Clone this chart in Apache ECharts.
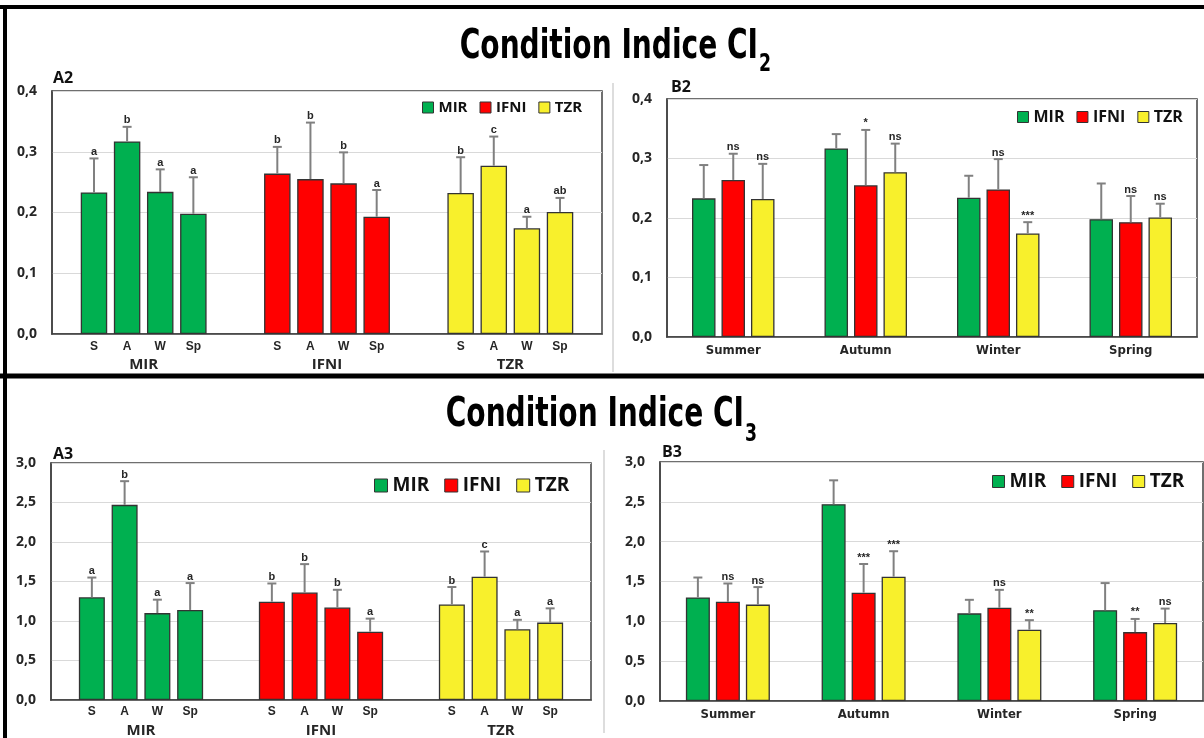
<!DOCTYPE html>
<html>
<head>
<meta charset="utf-8">
<script src="https://cdn.jsdelivr.net/npm/echarts@6/dist/echarts.min.js"></script>
<style>
html,body{margin:0;padding:0;background:#fff;}
#chart{width:1204px;height:738px;}
</style>
</head>
<body>
<div id="chart"></div>
<script>
// ---------- DATA ----------
const sites = ['MIR', 'IFNI', 'TZR'];
const seasons = ['Summer', 'Autumn', 'Winter', 'Spring'];
const seasonAbbr = ['S', 'A', 'W', 'Sp'];

// CI2 means and SD (Summer, Autumn, Winter, Spring)
const ci2_MIR = [0.233, 0.317, 0.234, 0.198];
const ci2_MIR_sd = [0.056, 0.024, 0.037, 0.060];
const ci2_IFNI = [0.264, 0.255, 0.248, 0.193];
const ci2_IFNI_sd = [0.044, 0.093, 0.051, 0.044];
const ci2_TZR = [0.232, 0.277, 0.174, 0.201];
const ci2_TZR_sd = [0.059, 0.048, 0.019, 0.023];

// CI3 means and SD
const ci3_MIR = [1.30, 2.47, 1.10, 1.14];
const ci3_MIR_sd = [0.25, 0.30, 0.17, 0.34];
const ci3_IFNI = [1.245, 1.36, 1.17, 0.865];
const ci3_IFNI_sd = [0.23, 0.36, 0.225, 0.165];
const ci3_TZR = [1.21, 1.56, 0.895, 0.98];
const ci3_TZR_sd = [0.22, 0.32, 0.12, 0.18];

// Letters (A panels: seasonal comparison within site)
const ci2_letters_MIR = ['a', 'b', 'a', 'a'];
const ci2_letters_IFNI = ['b', 'b', 'b', 'a'];
const ci2_letters_TZR = ['b', 'c', 'a', 'ab'];
const ci3_letters_MIR = ['a', 'b', 'a', 'a'];
const ci3_letters_IFNI = ['b', 'b', 'b', 'a'];
const ci3_letters_TZR = ['b', 'c', 'a', 'a'];

// Significance (B panels: site vs MIR per season)
const ci2_sig_MIR = ['', '', '', ''];
const ci2_sig_IFNI = ['ns', '*', 'ns', 'ns'];
const ci2_sig_TZR = ['ns', 'ns', '***', 'ns'];
const ci3_sig_MIR = ['', '', '', ''];
const ci3_sig_IFNI = ['ns', '***', 'ns', '**'];
const ci3_sig_TZR = ['ns', '***', '**', 'ns'];

const yTicks2 = {min: 0, max: 0.4, interval: 0.1};
const yTicks3 = {min: 0, max: 3.0, interval: 0.5};

// ---------- STYLE ----------
const siteColors = ['#00B050', '#FF0000', '#F8F02C'];
const F = '"Liberation Sans", Arial, sans-serif';
const FN = '"Liberation Sans Narrow", "DejaVu Sans Condensed", "Liberation Sans", sans-serif';
const FO = '"Open Sans", "Liberation Sans", sans-serif';
const barBorder = {borderColor: '#333', borderWidth: 1.3};

const means2 = [ci2_MIR, ci2_IFNI, ci2_TZR];
const sds2 = [ci2_MIR_sd, ci2_IFNI_sd, ci2_TZR_sd];
const lets2 = [ci2_letters_MIR, ci2_letters_IFNI, ci2_letters_TZR];
const sig2 = [ci2_sig_MIR, ci2_sig_IFNI, ci2_sig_TZR];
const means3 = [ci3_MIR, ci3_IFNI, ci3_TZR];
const sds3 = [ci3_MIR_sd, ci3_IFNI_sd, ci3_TZR_sd];
const lets3 = [ci3_letters_MIR, ci3_letters_IFNI, ci3_letters_TZR];
const sig3 = [ci3_sig_MIR, ci3_sig_IFNI, ci3_sig_TZR];

const panels = [
  {type: 'A', grid: {left: 52, top: 91, width: 550, height: 243}, ticks: yTicks2, means: means2, sds: sds2, texts: lets2, bw: 26.5, gap: 0.25,
   legend: {left: 422, top: 100, icon: 11, font: 15, gap: 12}, seasonDist: 7, siteMargin: 23},
  {type: 'B', grid: {left: 667, top: 99, width: 530, height: 238}, ticks: yTicks2, means: means2, sds: sds2, texts: sig2, bw: 23.5, gap: 0.255,
   legend: {left: 1017, top: 109, icon: 11, font: 16, gap: 12}, catMargin: 7},
  {type: 'A', grid: {left: 51, top: 463, width: 540, height: 238}, ticks: yTicks3, means: means3, sds: sds3, texts: lets3, bw: 26, gap: 0.26,
   legend: {left: 374, top: 476, icon: 13, font: 19, gap: 15}, seasonDist: 6, siteMargin: 23},
  {type: 'B', grid: {left: 660, top: 462, width: 543, height: 239}, ticks: yTicks3, means: means3, sds: sds3, texts: sig3, bw: 24, gap: 0.25,
   legend: {left: 992, top: 472, icon: 12, font: 19, gap: 15}, catMargin: 7}
];

function errRender(slots, n, bw, gap, texts) {
  return function (params, api) {
    const i = params.dataIndex;
    const c = api.value(0), m = api.value(1), h = api.value(2);
    const p0 = api.coord([c, m]);
    const p1 = api.coord([c, h]);
    const x = p0[0] + (slots[i] - (n - 1) / 2) * bw * (1 + gap);
    const children = [
      {type: 'line', shape: {x1: x, y1: p0[1], x2: x, y2: p1[1]}, style: {stroke: '#808080', lineWidth: 2}},
      {type: 'line', shape: {x1: x - 4.5, y1: p1[1], x2: x + 4.5, y2: p1[1]}, style: {stroke: '#808080', lineWidth: 2}}
    ];
    if (texts[i]) {
      children.push({type: 'text', x: x, y: p1[1] - 1,
        style: {text: texts[i], align: 'center', verticalAlign: 'bottom', font: 'bold 11px ' + F, fill: '#262626'}});
    }
    return {type: 'group', children: children};
  };
}

const grids = [], xAxes = [], yAxes = [], series = [], legends = [];
panels.forEach(function (p, gi) {
  grids.push(Object.assign({show: true, borderColor: '#404040', borderWidth: 1.5, backgroundColor: '#fff'}, p.grid));
  yAxes.push({gridIndex: gi, type: 'value', min: p.ticks.min, max: p.ticks.max, interval: p.ticks.interval,
    axisLine: {show: true, lineStyle: {color: '#404040', width: 1.5}}, axisTick: {show: false},
    splitLine: {lineStyle: {color: '#D9D9D9', width: 1.2}},
    axisLabel: {margin: 15, color: '#262626', fontFamily: FO, fontWeight: 'bold', fontSize: 14,
      formatter: function (v) { return v.toFixed(1).replace('.', ','); }}});
  const isA = p.type === 'A';
  xAxes.push({gridIndex: gi, type: 'category', data: isA ? sites : seasons,
    axisLine: {show: true, lineStyle: {color: '#404040', width: 1.5}}, axisTick: {show: false},
    axisLabel: isA ? {margin: p.siteMargin, color: '#262626', fontFamily: FO, fontWeight: 'bold', fontSize: 15}
                   : {margin: p.catMargin, color: '#262626', fontFamily: FN, fontWeight: 'bold', fontSize: 13}});
  const errData = [], slots = [], texts = [];
  if (isA) {
    seasonAbbr.forEach(function (ab, s) {
      series.push({type: 'bar', name: ab, xAxisIndex: gi, yAxisIndex: gi, barWidth: p.bw, barGap: (p.gap * 100) + '%',
        data: sites.map(function (site, k) { return {value: p.means[k][s], itemStyle: Object.assign({color: siteColors[k]}, barBorder)}; }),
        label: {show: true, position: 'bottom', distance: p.seasonDist, formatter: ab, color: '#262626',
          fontFamily: F, fontWeight: 'bold', fontSize: 12}});
      sites.forEach(function (site, k) {
        errData.push([k, p.means[k][s], p.means[k][s] + p.sds[k][s]]);
        slots.push(s); texts.push(p.texts[k][s]);
      });
    });
    series.push({type: 'custom', xAxisIndex: gi, yAxisIndex: gi, z: 5, silent: true,
      renderItem: errRender(slots, 4, p.bw, p.gap, texts), data: errData});
  } else {
    sites.forEach(function (site, k) {
      series.push({type: 'bar', name: site, xAxisIndex: gi, yAxisIndex: gi, barWidth: p.bw, barGap: (p.gap * 100) + '%',
        itemStyle: Object.assign({color: siteColors[k]}, barBorder), data: p.means[k]});
      seasons.forEach(function (se, s) {
        errData.push([s, p.means[k][s], p.means[k][s] + p.sds[k][s]]);
        slots.push(k); texts.push(p.texts[k][s]);
      });
    });
    series.push({type: 'custom', xAxisIndex: gi, yAxisIndex: gi, z: 5, silent: true,
      renderItem: errRender(slots, 3, p.bw, p.gap, texts), data: errData});
  }
  legends.push({data: sites, left: p.legend.left, top: p.legend.top, orient: 'horizontal', padding: 0,
    itemWidth: p.legend.icon, itemHeight: p.legend.icon, itemGap: p.legend.gap, itemTextGap: 4, icon: 'rect', selectedMode: false,
    itemStyle: {borderColor: '#333', borderWidth: 1},
    textStyle: {fontFamily: FO, fontWeight: 'bold', fontSize: p.legend.font, color: '#111'}});
});

const graphics = [
  // panel frames
  {type: 'line', shape: {x1: 0, y1: 7, x2: 1204, y2: 7}, style: {stroke: '#000', lineWidth: 4}},
  {type: 'line', shape: {x1: 0, y1: 376, x2: 1204, y2: 376}, style: {stroke: '#000', lineWidth: 5}},
  {type: 'line', shape: {x1: 5, y1: 5, x2: 5, y2: 738}, style: {stroke: '#000', lineWidth: 4}},
  // separators
  {type: 'line', shape: {x1: 613, y1: 83, x2: 613, y2: 372}, style: {stroke: '#DDDDDD', lineWidth: 2}},
  {type: 'line', shape: {x1: 604, y1: 450, x2: 604, y2: 733}, style: {stroke: '#DDDDDD', lineWidth: 2}},
  // titles
  {type: 'text', x: 758, y: 48, scaleX: 0.78, style: {text: 'Condition Indice CI', align: 'right', verticalAlign: 'middle', font: 'bold 40px ' + FN, fill: '#000'}},
  {type: 'text', x: 759, y: 65, scaleX: 0.8, style: {text: '2', align: 'left', verticalAlign: 'middle', font: 'bold 24px ' + FN, fill: '#000'}},
  {type: 'text', x: 744, y: 416, scaleX: 0.78, style: {text: 'Condition Indice CI', align: 'right', verticalAlign: 'middle', font: 'bold 40px ' + FN, fill: '#000'}},
  {type: 'text', x: 745, y: 435, scaleX: 0.8, style: {text: '3', align: 'left', verticalAlign: 'middle', font: 'bold 24px ' + FN, fill: '#000'}},
  // panel labels
  {type: 'text', x: 53, y: 78, style: {text: 'A2', align: 'left', verticalAlign: 'middle', font: 'bold 16px ' + FO, fill: '#111'}},
  {type: 'text', x: 671, y: 87, style: {text: 'B2', align: 'left', verticalAlign: 'middle', font: 'bold 16px ' + FO, fill: '#111'}},
  {type: 'text', x: 53, y: 454, style: {text: 'A3', align: 'left', verticalAlign: 'middle', font: 'bold 16px ' + FO, fill: '#111'}},
  {type: 'text', x: 662, y: 452, style: {text: 'B3', align: 'left', verticalAlign: 'middle', font: 'bold 16px ' + FO, fill: '#111'}}
];

const chart = echarts.init(document.getElementById('chart'), null, {renderer: 'canvas'});
chart.setOption({
  animation: false,
  backgroundColor: '#fff',
  grid: grids, xAxis: xAxes, yAxis: yAxes, series: series, legend: legends,
  graphic: graphics
});
</script>
</body>
</html>
